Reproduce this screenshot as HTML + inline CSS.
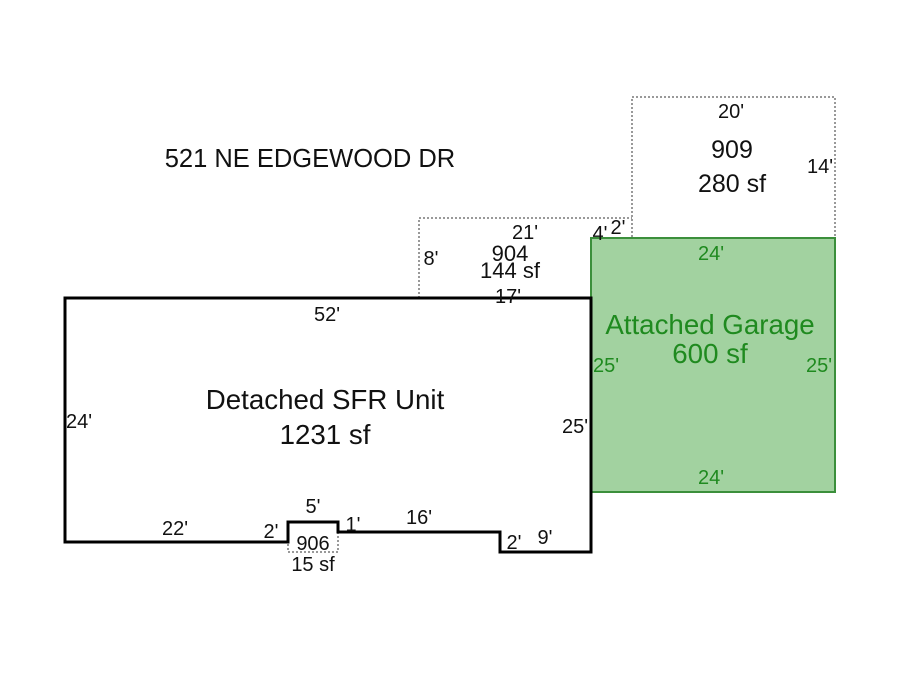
<!DOCTYPE html>
<html><head><style>body{margin:0;background:#fff}svg{display:block}</style></head>
<body>
<svg width="900" height="675" xmlns="http://www.w3.org/2000/svg" font-family="Liberation Sans, Arial, sans-serif">
<rect width="900" height="675" fill="#fff"/>
<g fill="none" stroke="#333" stroke-width="1" stroke-dasharray="2,2">
<path d="M419,298 V218 H632"/>
<rect x="632" y="97" width="203" height="141"/>
<path d="M288,532 V552 H338 V532"/>
</g>
<rect x="591" y="238" width="244" height="254" fill="#a2d2a0" stroke="#3b8f3b" stroke-width="2"/>
<path d="M65,298 H591 V552 H500 V532 H338 V522 H288 V542 H65 Z" fill="none" stroke="#000" stroke-width="3"/>
<g fill="#111" text-anchor="middle">
<text x="310" y="167" font-size="25.5">521 NE EDGEWOOD DR</text>
<text x="325" y="409" font-size="27.7">Detached SFR Unit</text>
<text x="325" y="444" font-size="27.7">1231 sf</text>
<text x="732" y="158" font-size="25">909</text>
<text x="732" y="192" font-size="25">280 sf</text>
</g>
<g fill="#1f8a1f" font-size="27.7" text-anchor="middle">
<text x="710" y="334">Attached Garage</text>
<text x="710" y="363">600 sf</text>
</g>
<g fill="#1f8a1f" font-size="20" text-anchor="middle">
<text x="711" y="260">24'</text>
<text x="711" y="484">24'</text>
<text x="606" y="372">25'</text>
<text x="819" y="372">25'</text>
</g>
<g fill="#111" font-size="20" text-anchor="middle">
<text x="731" y="118">20'</text>
<text x="820" y="173">14'</text>
<text x="525" y="239">21'</text>
<text x="510" y="261" font-size="22">904</text>
<text x="510" y="278" font-size="22">144 sf</text>
<text x="508" y="303">17'</text>
<text x="431" y="265">8'</text>
<text x="600" y="240">4'</text>
<text x="618" y="234">2'</text>
<text x="327" y="321">52'</text>
<text x="79" y="428">24'</text>
<text x="575" y="433">25'</text>
<text x="313" y="513">5'</text>
<text x="175" y="535">22'</text>
<text x="271" y="538">2'</text>
<text x="353" y="531">1'</text>
<text x="419" y="524">16'</text>
<text x="514" y="549">2'</text>
<text x="545" y="544">9'</text>
<text x="313" y="550">906</text>
<text x="313" y="571">15 sf</text>
</g>
</svg>
</body></html>
